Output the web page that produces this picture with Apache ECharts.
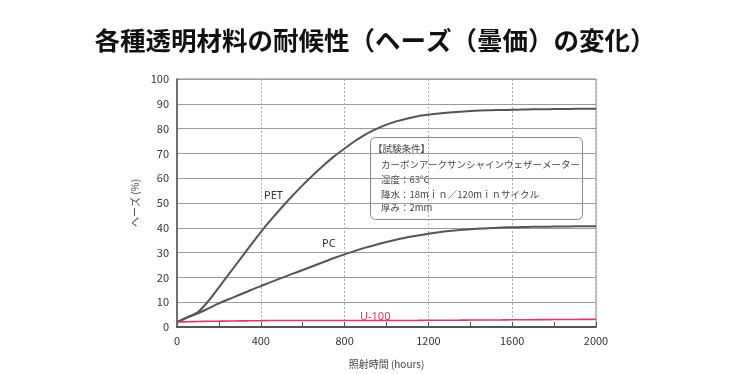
<!DOCTYPE html>
<html><head><meta charset="utf-8">
<script src="https://cdn.jsdelivr.net/npm/echarts@6/dist/echarts.min.js"></script>
<style>html,body{margin:0;padding:0;background:#fff}#c{width:750px;height:374px}</style>
</head><body><div id="c"></div>
<script>
var hours = [0,50,100,150,200,250,300,350,400,450,500,550,600,650,700,750,800,850,900,950,1000,1050,1100,1150,1200,1250,1300,1350,1400,1450,1500,1550,1600,1650,1700,1750,1800,1850,1900,1950,2000];
var petValues = [2,4,6,10.5,16,21.6,27.2,32.8,38.3,43.4,48.2,52.8,57.2,61.3,65.2,68.8,72,75,77.7,79.8,81.6,83,84.1,85,85.6,86.1,86.5,86.8,87.1,87.3,87.4,87.5,87.6,87.7,87.8,87.8,87.9,87.9,88,88,88];
var pcValues = [2,3.8,5.5,7.5,9.5,11.3,13,14.8,16.5,18.2,19.8,21.4,23,24.6,26.2,27.8,29.3,30.7,32,33.2,34.3,35.3,36.2,36.9,37.6,38.2,38.7,39.1,39.4,39.7,39.9,40.1,40.2,40.3,40.4,40.4,40.5,40.5,40.6,40.6,40.6];
var u100Values = [2,2.1,2.2,2.3,2.35,2.4,2.45,2.5,2.55,2.6,2.6,2.6,2.6,2.6,2.6,2.6,2.6,2.6,2.6,2.6,2.6,2.62,2.64,2.66,2.7,2.72,2.74,2.76,2.8,2.82,2.84,2.86,2.9,2.92,2.95,2.97,3.0,3.02,3.05,3.08,3.1];
var xTicks = [0,400,800,1200,1600,2000];
var seriesNames = ['PET','PC','U-100'];
var titleText = '各種透明材料の耐候性（ヘーズ（曇価）の変化）';
var noteLines = ['【試験条件】','カーボンアークサンシャインウェザーメーター','湿度：63°C','降水：18mｉｎ／120mｉｎサイクル','厚み：2mm'];

function pairs(v){ return hours.map(function(h,i){ return [h, v[i]]; }); }
var FONT = '"Noto Sans CJK JP", "Noto Sans", sans-serif';
var chart = echarts.init(document.getElementById('c'), null, {renderer:'canvas'});
chart.setOption({
  animation:false,
  backgroundColor:'#fff',
  grid:{left:177, right:154, top:79, bottom:45, show:true, borderColor:'#8a8a8a', borderWidth:1, containLabel:false},
  xAxis:{
    type:'value', min:0, max:2000, interval:400,
    name:'照射時間 (hours)', nameLocation:'middle', nameGap:32,
    nameTextStyle:{fontFamily:FONT, fontSize:10, color:'#444'},
    axisLine:{show:true, lineStyle:{color:'#555', width:2}},
    axisTick:{show:true, inside:true, length:5, lineStyle:{color:'#555', width:1}},
    minorTick:{show:true, splitNumber:2, length:5, lineStyle:{color:'#555', width:1}},
    axisLabel:{fontFamily:FONT, fontSize:11, color:'#333', margin:8,
      formatter:function(v){ return xTicks.indexOf(v)>=0 ? String(v) : ''; }},
    splitLine:{show:true, lineStyle:{color:'#aaa', type:[2,2], width:1}}
  },
  yAxis:{
    type:'value', min:0, max:100, interval:10,
    name:'ヘーズ (%)', nameLocation:'middle', nameGap:24, nameRotate:90,
    nameTextStyle:{fontFamily:FONT, fontSize:10, color:'#444'},
    axisLine:{show:true, lineStyle:{color:'#555', width:1.5}},
    axisTick:{show:false},
    axisLabel:{fontFamily:FONT, fontSize:11, color:'#333', margin:8},
    splitLine:{show:true, lineStyle:{color:'#9a9a9a', width:1}}
  },
  series:[
    {name:seriesNames[0], type:'line', data:pairs(petValues), smooth:0.3, showSymbol:false,
     lineStyle:{color:'#555', width:2}},
    {name:seriesNames[1], type:'line', data:pairs(pcValues), smooth:0.3, showSymbol:false,
     lineStyle:{color:'#555', width:2}},
    {name:seriesNames[2], type:'line', data:pairs(u100Values), smooth:0.3, showSymbol:false,
     lineStyle:{color:'#e0356d', width:1.6}}
  ],
  graphic:[
    {type:'text', left:'center', top:28, style:{text:titleText, font:'bold 25.5px "Noto Sans CJK JP", sans-serif', fill:'#111'}},
    {type:'text', left:264, top:190, style:{text:seriesNames[0], font:'11px "Noto Sans", sans-serif', fill:'#333'}},
    {type:'text', left:322, top:238, style:{text:seriesNames[1], font:'11px "Noto Sans", sans-serif', fill:'#333'}},
    {type:'text', left:360, top:311, style:{text:seriesNames[2], font:'11px "Noto Sans", sans-serif', fill:'#e0356d'}},
    {type:'rect', left:370, top:137, shape:{width:212, height:82, r:5}, style:{fill:'#fff', stroke:'#888', lineWidth:1}},
    {type:'text', left:373, top:144, style:{text:noteLines[0], font:'9.5px "Noto Sans CJK JP", sans-serif', fill:'#444'}},
    {type:'text', left:381, top:160, style:{text:noteLines[1], font:'9.5px "Noto Sans CJK JP", sans-serif', fill:'#444'}},
    {type:'text', left:381, top:175, style:{text:noteLines[2], font:'9.5px "Noto Sans CJK JP", sans-serif', fill:'#444'}},
    {type:'text', left:381, top:190, style:{text:noteLines[3], font:'9.5px "Noto Sans CJK JP", sans-serif', fill:'#444'}},
    {type:'text', left:381, top:203, style:{text:noteLines[4], font:'9.5px "Noto Sans CJK JP", sans-serif', fill:'#444'}}
  ]
});
</script></body></html>
